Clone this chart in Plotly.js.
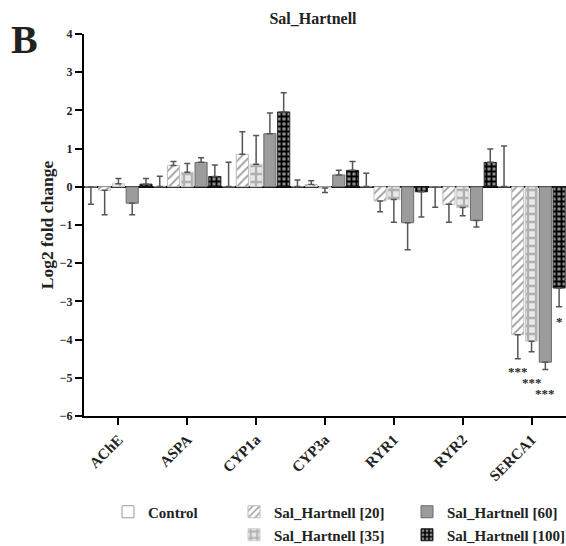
<!DOCTYPE html>
<html><head><meta charset="utf-8">
<script src="https://cdn.plot.ly/plotly-3.0.1.min.js"></script>
<style>html,body{margin:0;padding:0;background:#fff}#chart{width:566px;height:546px}</style>
</head><body><div id="chart"></div>
<script>
const genes = ["AChE","ASPA","CYP1a","CYP3a","RYR1","RYR2","SERCA1"];
const seriesNames = ["Control","Sal_Hartnell [20]","Sal_Hartnell [35]","Sal_Hartnell [60]","Sal_Hartnell [100]"];
// mean log2 fold change
const control = [-0.005, 0.005, 0.005, 0.005, 0.005, -0.005, 0.005];
const sal20  = [-0.09, 0.56, 0.85, 0.06, -0.37, -0.46, -3.87];
const sal35  = [0.08, 0.38, 0.59, -0.03, -0.33, -0.54, -4.04];
const sal60  = [-0.43, 0.64, 1.39, 0.31, -0.94, -0.88, -4.59];
const sal100 = [0.07, 0.27, 1.96, 0.43, -0.13, 0.64, -2.65];
// error (one-sided, drawn away from zero)
const controlErr = [0.45, 0.27, 0.64, 0.17, 0.35, 0.53, 1.06];
const sal20Err  = [0.64, 0.10, 0.59, 0.10, 0.28, 0.47, 0.63];
const sal35Err  = [0.14, 0.23, 0.75, 0.12, 0.60, 0.22, 0.28];
const sal60Err  = [0.30, 0.12, 0.54, 0.12, 0.71, 0.17, 0.19];
const sal100Err = [0.15, 0.30, 0.50, 0.23, 0.66, 0.35, 0.49];
// significance labels for SERCA1
const sigText = ["***","***","***","*"];
const sigSeries = [1,2,3,4];
const sigY = [-4.83, -5.13, -5.40, -3.52];

const serif = "Liberation Serif, Times New Roman, serif";
const ink = "rgb(34,34,34)";
const vals = [control, sal20, sal35, sal60, sal100];
const errs = [controlErr, sal20Err, sal35Err, sal60Err, sal100Err];
const styles = [
  {color:"#ffffff", line:{color:"#9a9a9a", width:1}, pattern:{shape:""}},
  {color:"#ffffff", line:{color:"#bdbdbd", width:1}, pattern:{shape:"/", fgcolor:"#9a9a9a", bgcolor:"#ffffff", size:6, solidity:0.3}},
  {color:"#e6e6e6", line:{color:"#cfcfcf", width:1}, pattern:{shape:"+", fgcolor:"#b0b0b0", bgcolor:"#e8e8e8", size:8, solidity:0.5}},
  {color:"#9c9c9c", line:{color:"#6a6a6a", width:1}, pattern:{shape:""}},
  {color:"#8a8a8a", line:{color:"#222222", width:1}, pattern:{shape:"+", fgcolor:"#000000", bgcolor:"#8c8c8c", size:5, solidity:0.6}}
];
const legendOf = ["legend","legend2","legend4","legend3","legend5"];

const traces = vals.map((v,i)=>({
  type:"bar", name:seriesNames[i], x:genes, y:v,
  legend:legendOf[i],
  marker:styles[i],
  error_y:{type:"data", symmetric:false,
    array: v.map((y,j)=> y>=0 ? errs[i][j] : 0),
    arrayminus: v.map((y,j)=> y<0 ? errs[i][j] : 0),
    color:"#555555", thickness:1.5, width:3}
}));

const annotations = [
  {text:"B", xref:"paper", yref:"paper", x:(24-84)/482, y:(416-40)/382, showarrow:false,
   font:{family:serif, size:40, weight:"bold", color:ink}, xanchor:"center", yanchor:"middle"}
];
sigText.forEach((t,k)=>{
  annotations.push({text:t, x:6 + (sigSeries[k]-2)*0.2, y:sigY[k], xref:"x", yref:"y",
    showarrow:false, font:{family:serif, size:13, weight:"bold", color:"rgb(40,40,40)"},
    xanchor:"center", yanchor:"middle"});
});

const legendFont = {family:serif, size:15, weight:"bold", color:ink};
function leg(px, py){ return {x:(px-84)/482, y:(416-py)/382, xanchor:"left", yanchor:"middle", font:legendFont, bgcolor:"rgba(0,0,0,0)"}; }
const layout = {
  width:566, height:546,
  margin:{l:84, r:0, t:34, b:130, autoexpand:false},
  paper_bgcolor:"#fff", plot_bgcolor:"#fff",
  title:{text:"Sal_Hartnell", font:{family:serif, size:16, weight:"bold", color:ink},
         x:(313-84)/482, xref:"paper", y:1-18/546, yref:"container", xanchor:"center", yanchor:"middle"},
  barmode:"group", bargap:0.0, bargroupgap:0.12,
  xaxis:{type:"category", range:[-0.5,6.5], showline:true, linecolor:"#000", linewidth:2, automargin:false,
         ticks:"outside", ticklen:7, tickwidth:2, tickcolor:"#000", tickangle:-45,
         tickfont:{family:serif, size:15, weight:"bold", color:ink}, showgrid:false, zeroline:false},
  yaxis:{range:[-6,4], dtick:1, showline:true, linecolor:"#000", linewidth:2, automargin:false,
         ticks:"outside", ticklen:7, tickwidth:2, tickcolor:"#000",
         tickfont:{family:serif, size:12, weight:"bold", color:ink}, showgrid:false,
         zeroline:true, zerolinecolor:"#000", zerolinewidth:1.5,
         title:{text:"Log2 fold change", font:{family:serif, size:17.5, weight:"bold", color:ink}, standoff:2}},
  showlegend:true,
  legend:leg(108,512),
  legend2:leg(234,512),
  legend3:leg(407,512),
  legend4:leg(234,535),
  legend5:leg(407,535),
  annotations:annotations
};
Plotly.newPlot("chart", traces, layout, {displayModeBar:false, staticPlot:true});
</script></body></html>
